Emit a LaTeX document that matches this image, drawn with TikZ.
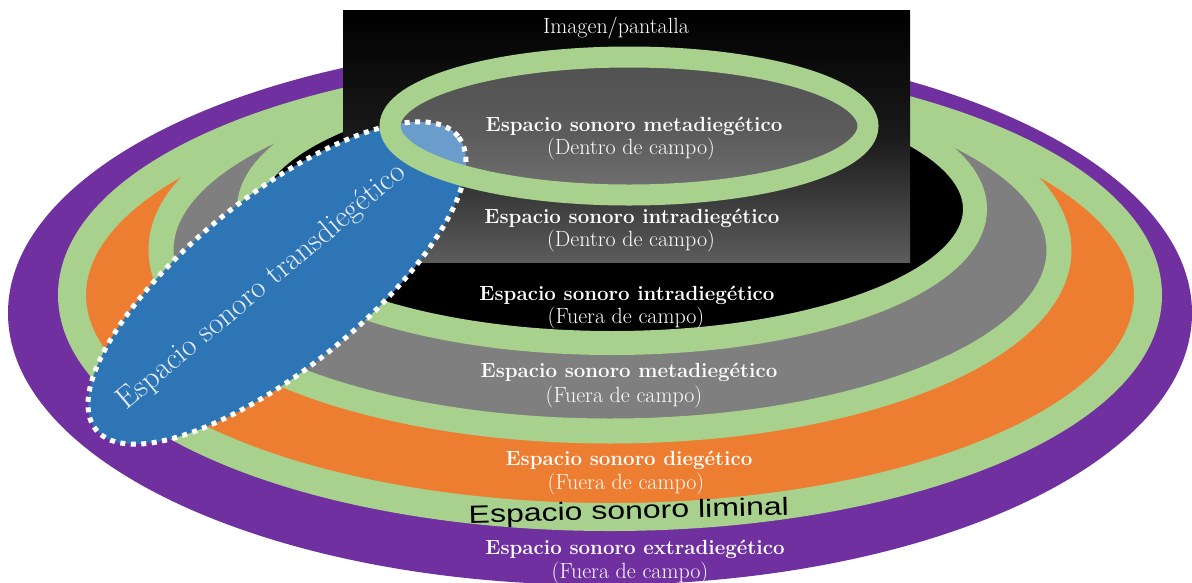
\documentclass[tikz,border=0pt]{standalone}
\usepackage{fontspec}
\usepackage{graphicx}
\newfontfamily\arialf{Liberation Sans}
\definecolor{cpurple}{HTML}{7030A0}
\definecolor{corange}{HTML}{ED7D31}
\definecolor{cgray}{HTML}{7F7F7F}
\definecolor{cblue}{HTML}{2E75B6}
\definecolor{lgreen}{HTML}{A9D18E}
\definecolor{cscreen}{HTML}{5C5C5C}
\definecolor{cscreenmid}{HTML}{1A1A1A}
\pgfdeclareverticalshading{screenshade}{100bp}{color(0bp)=(cscreen); color(25bp)=(cscreen); color(50bp)=(cscreenmid); color(75bp)=(black); color(100bp)=(black)}
\tikzset{
  lab/.style={text=white, font=\fontsize{20.5}{22}\selectfont\bfseries, anchor=base, inner sep=0pt},
  sub/.style={text=white, font=\fontsize{22}{24}\selectfont, anchor=base, inner sep=0pt},
  greenring/.style={draw=lgreen, line width=#1},
}
\begin{document}
\begin{tikzpicture}[x=1pt,y=-1pt]
\useasboundingbox (0,0) rectangle (1192,582);
\clip (0,0) rectangle (1192,582);
% layers
\path[fill=cpurple] (600,313) ellipse [x radius=592pt, y radius=272pt];
\path[fill=corange, greenring=28pt] (610,295) ellipse [x radius=538pt, y radius=222pt];
\path[fill=cgray, greenring=25pt] (610,250) ellipse [x radius=449pt, y radius=181pt];
\path[fill=black, greenring=24pt] (612,209) ellipse [x radius=363pt, y radius=134pt];
% screen
\shade[shading=screenshade] (343,10) rectangle (910,262);
% transdiegetic
\path[fill=cblue, draw=white, line width=5pt, dash pattern=on 5pt off 5.5pt, rotate around={39:(277,283)}] (277,283) ellipse [x radius=233pt, y radius=86pt];
\node[rotate=40, anchor=base, inner sep=0pt, text=white!88!cblue, font=\fontsize{31}{31}\selectfont] (trans) at (267,293) {Espacio sonoro transdiegético};
% top ellipse
\path[fill=white, fill opacity=0.29] (629,126) ellipse [x radius=239pt, y radius=69pt];
\path[greenring=21pt] (629,126) ellipse [x radius=239pt, y radius=69pt];
% labels
\node[sub] (img) at (616,33) {Imagen/pantalla};
\node[lab] (m1) at (634,131) {Espacio sonoro metadiegético};
\node[sub] (m1b) at (631,154) {(Dentro de campo)};
\node[lab] (i1) at (632,223) {Espacio sonoro intradiegético};
\node[sub] (i1b) at (631,246) {(Dentro de campo)};
\node[lab] (i2) at (627,300) {Espacio sonoro intradiegético};
\node[sub] (i2b) at (626,323) {(Fuera de campo)};
\node[lab] (m2) at (629,377) {Espacio sonoro metadiegético};
\node[sub] (m2b) at (624,402) {(Fuera de campo)};
\node[lab] (d) at (629,465) {Espacio sonoro diegético};
\node[sub] (db) at (626,489) {(Fuera de campo)};
\node[anchor=base, inner sep=0pt, rotate=1.5, text=black, font=\arialf\fontsize{25}{25}\selectfont] (lim) at (629,519) {\scalebox{1.28}[1]{Espacio sonoro liminal}};
\node[lab] (e) at (635,554) {Espacio sonoro extradiegético};
\node[sub] (eb) at (630,578) {(Fuera de campo)};
\end{tikzpicture}
\end{document}
